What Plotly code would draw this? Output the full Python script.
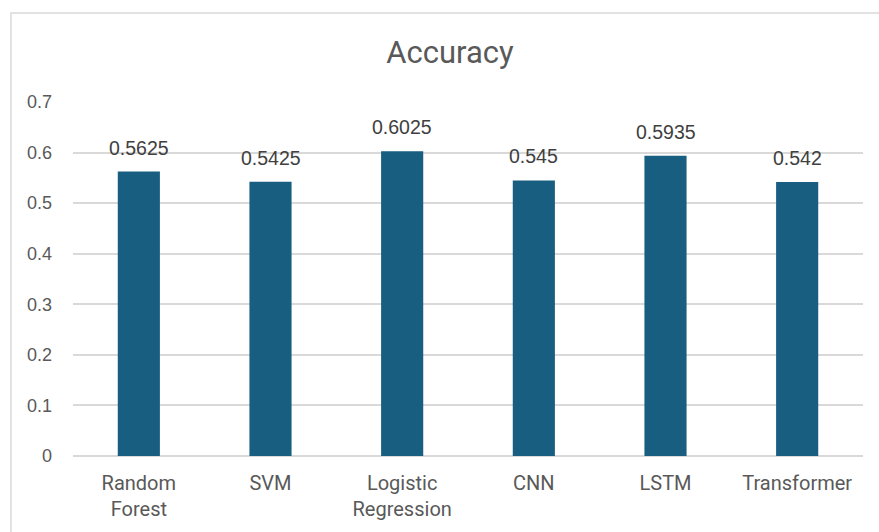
import plotly.graph_objects as go

# Model accuracy comparison
models = ["Random<br>Forest", "SVM", "Logistic<br>Regression", "CNN", "LSTM", "Transformer"]
accuracy = [0.5625, 0.5425, 0.6025, 0.545, 0.5935, 0.542]
y_ticks = [0, 0.1, 0.2, 0.3, 0.4, 0.5, 0.6, 0.7]
y_tick_labels = ["0", "0.1", "0.2", "0.3", "0.4", "0.5", "0.6", "0.7"]

BAR_COLOR = "#185e80"
GRID_COLOR = "#d9d9d9"
TEXT_COLOR = "#595959"

fig = go.Figure(
    go.Bar(
        x=models,
        y=accuracy,
        marker=dict(color=BAR_COLOR, line=dict(width=0)),
        hoverinfo="x+y",
    )
)

# value labels above each bar
for m, v in zip(models, accuracy):
    fig.add_annotation(
        x=m, y=v, text=f"{v:g}", showarrow=False,
        yanchor="bottom", yshift=11,
        font=dict(family="Liberation Sans, Arial, sans-serif", size=19.5, color="#404040"),
    )

# outer chart frame
fig.add_shape(
    type="rect", xref="paper", yref="paper",
    x0=-0.0785, x1=1.08, y0=-0.35, y1=1.2516,
    line=dict(color=GRID_COLOR, width=1.5), fillcolor="rgba(0,0,0,0)", layer="below",
)

fig.update_layout(
    width=879, height=532,
    margin=dict(l=73, r=16, t=102, b=76),
    paper_bgcolor="white", plot_bgcolor="white",
    bargap=0.68,
    showlegend=False,
    title=dict(
        text="Accuracy", x=0.512, xanchor="center", y=0.902, yanchor="middle",
        font=dict(family="Roboto, sans-serif", size=31, color=TEXT_COLOR),
    ),
    xaxis=dict(
        showgrid=False, showline=False, zeroline=False,
        tickfont=dict(family="Roboto, sans-serif", size=20, color=TEXT_COLOR),
        ticks="", ticklabelstandoff=13,
    ),
    yaxis=dict(
        range=[0, 0.7], tickvals=y_ticks, ticktext=y_tick_labels,
        showgrid=True, gridcolor=GRID_COLOR, gridwidth=1.5,
        zeroline=True, zerolinecolor=GRID_COLOR, zerolinewidth=1.5,
        showline=False, ticks="", ticklabelstandoff=20,
        tickfont=dict(family="Liberation Sans, Arial, sans-serif", size=18, color=TEXT_COLOR),
    ),
)

fig.write_html("out.html")
